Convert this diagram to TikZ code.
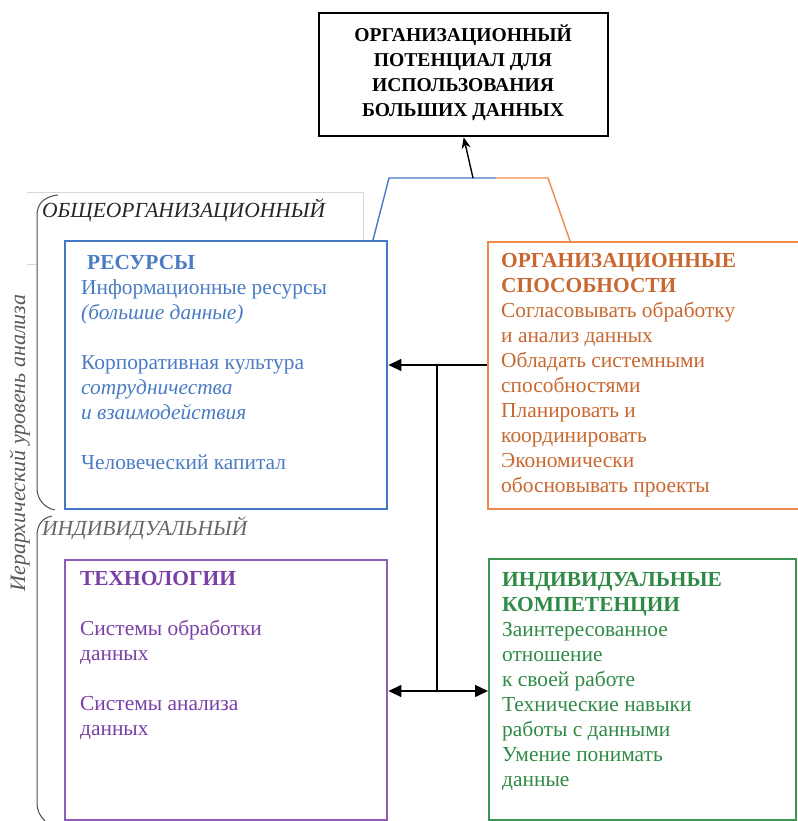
\documentclass[tikz,border=0pt]{standalone}
\usepackage{fontspec}
\setmainfont{Liberation Serif}
\usetikzlibrary{arrows.meta}
\definecolor{cblue}{HTML}{4378C4}
\definecolor{cbluet}{HTML}{4A7CC4}
\definecolor{corange}{HTML}{EE8A4A}
\definecolor{coranget}{HTML}{C8672F}
\definecolor{cpurple}{HTML}{8E5CB8}
\definecolor{cpurplet}{HTML}{7A3FA6}
\definecolor{cgreen}{HTML}{3A9650}
\definecolor{cgreent}{HTML}{2F8A45}
\definecolor{cframe}{HTML}{D8D8D8}
\tikzset{
  boxframe/.style={draw, line width=2.4pt, rectangle, inner sep=0pt, anchor=north west},
  txt/.style={align=left, inner sep=0pt, anchor=base west, font=\fontsize{21.4}{24.9}\selectfont},
  lvl/.style={inner sep=0pt, anchor=base west, font=\itshape\fontsize{21.5}{24}\selectfont},
  conn/.style={line width=1.4pt},
  arr/.style={conn, -{Triangle[length=13pt,width=12pt]}},
  arrboth/.style={conn, {Triangle[length=13pt,width=12pt]}-{Triangle[length=13pt,width=12pt]}},
  brack/.style={line width=1pt, draw=black!70},
}
\begin{document}
\begin{tikzpicture}[x=1pt,y=-1pt]
\useasboundingbox (0,0) rectangle (797,821);
% light frame of the level caption
\draw[cframe, line width=0.8pt] (27,264) -- (37,264);
\draw[cframe, line width=0.8pt] (27,192) -- (363,192) -- (363,240);
% boxes
\node[boxframe, draw=black, minimum width=289pt, minimum height=123pt] (pot) at (318,12) {};
\node[boxframe, draw=cblue, minimum width=322pt, minimum height=268pt] (res) at (64,240) {};
\node[boxframe, draw=corange, minimum width=312pt, minimum height=267pt] (cap) at (487,241) {};
\node[boxframe, draw=cpurple, minimum width=322pt, minimum height=260pt] (tech) at (64,559) {};
\node[boxframe, draw=cgreen, minimum width=307pt, minimum height=261pt] (comp) at (488,558) {};
% texts (node baseline = baseline of the last line)
\node[txt, anchor=base, align=center, font=\bfseries\fontsize{19.6}{25}\selectfont] (pottxt) at (463,117)
  {ОРГАНИЗАЦИОННЫЙ\\ПОТЕНЦИАЛ ДЛЯ\\ИСПОЛЬЗОВАНИЯ\\БОЛЬШИХ ДАННЫХ};
\node[txt, text=cbluet] (restxt) at (81,469)
  {\hspace{6pt}\textbf{РЕСУРСЫ}\\Информационные ресурсы\\\textit{(большие данные)}\\\mbox{}\\Корпоративная культура\\\textit{сотрудничества}\\\textit{и взаимодействия}\\\mbox{}\\Человеческий капитал};
\node[txt, text=coranget] (captxt) at (501,492)
  {\textbf{ОРГАНИЗАЦИОННЫЕ}\\\textbf{СПОСОБНОСТИ}\\Согласовывать обработку\\и анализ данных\\Обладать системными\\способностями\\Планировать и\\координировать\\Экономически\\обосновывать проекты};
\node[txt, text=cpurplet] (techtxt) at (80,735)
  {\textbf{ТЕХНОЛОГИИ}\\\mbox{}\\Системы обработки\\данных\\\mbox{}\\Системы анализа\\данных};
\node[txt, text=cgreent] (comptxt) at (502,786)
  {\textbf{ИНДИВИДУАЛЬНЫЕ}\\\textbf{КОМПЕТЕНЦИИ}\\Заинтересованное\\отношение\\к своей работе\\Технические навыки\\работы с данными\\Умение понимать\\данные};
% level labels
\node[lvl, text=black!85] (lv1) at (42,217) {ОБЩЕОРГАНИЗАЦИОННЫЙ};
\node[lvl, text=black!60] (lv2) at (42,535) {ИНДИВИДУАЛЬНЫЙ};
\node[inner sep=0pt, rotate=90, anchor=base, text=black!65, font=\itshape\fontsize{22}{24}\selectfont] (axis) at (25,443) {Иерархический уровень анализа};
% brackets
\draw[brack] (58,195) .. controls (42,197) and (37,205) .. (37,216) -- (37,488) .. controls (37,500) and (45,508) .. (55,510);
\draw[brack] (52,516) .. controls (42,518) and (37,525) .. (37,536) -- (37,802) .. controls (37,811) and (40,816) .. (45,821);
% top connectors
\coordinate (b1) at (373,240);
\coordinate (b2) at (389,178);
\coordinate (mid) at (496,178);
\coordinate (o2) at (548,178);
\coordinate (o1) at (570,241);
\coordinate (a0) at (473,178);
\draw[conn, cblue] (b1) -- (b2) -- (mid);
\draw[conn, corange] (mid) -- (o2) -- (o1);
\draw[conn, -{Stealth[length=11pt,width=9pt]}] (a0) -- (pot.south);
% middle connectors
\coordinate (j1) at (437,365);
\coordinate (j2) at (437,691);
\draw[arr] (cap.west |- j1) -- (res.east |- j1);
\draw[conn] (j1) -- (j2);
\draw[arrboth] (tech.east |- j2) -- (comp.west |- j2);
\end{tikzpicture}
\end{document}
